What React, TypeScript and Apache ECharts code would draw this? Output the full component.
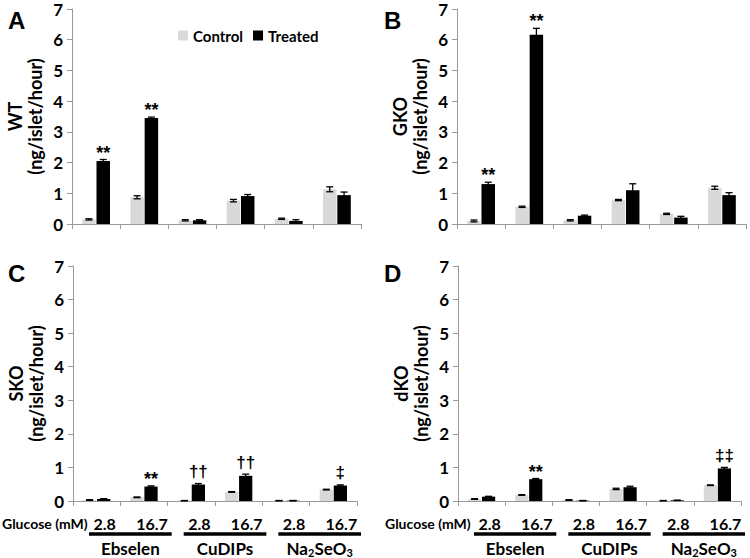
import React, { useEffect, useRef } from "react";
import * as echarts from "echarts";

const categories = ["Ebselen|2.8", "Ebselen|16.7", "CuDIPs|2.8", "CuDIPs|16.7", "Na2SeO3|2.8", "Na2SeO3|16.7"];
const groups = ["Ebselen", "CuDIPs", "Na2SeO3"];
const panelNames = ["WT", "GKO", "SKO", "dKO"];
const panelLetters = ["A", "B", "C", "D"];

const wtControl = [0.15, 0.87, 0.12, 0.76, 0.17, 1.13];
const wtControlErr = [0.02, 0.05, 0.02, 0.04, 0.02, 0.08];
const wtTreated = [2.05, 3.45, 0.12, 0.91, 0.1, 0.94];
const wtTreatedErr = [0.05, 0.03, 0.02, 0.05, 0.04, 0.1];
const wtMarks = ["**", "**", "", "", "", ""];

const gkoControl = [0.1, 0.56, 0.12, 0.78, 0.33, 1.18];
const gkoControlErr = [0.03, 0.02, 0.02, 0.02, 0.02, 0.05];
const gkoTreated = [1.3, 6.16, 0.27, 1.1, 0.21, 0.94];
const gkoTreatedErr = [0.06, 0.21, 0.02, 0.21, 0.04, 0.08];
const gkoMarks = ["**", "**", "", "", "", ""];

const skoControl = [0.03, 0.11, 0.01, 0.27, 0.01, 0.34];
const skoControlErr = [0.01, 0.01, 0.005, 0.01, 0.005, 0.01];
const skoTreated = [0.06, 0.43, 0.49, 0.75, 0.01, 0.46];
const skoTreatedErr = [0.01, 0.02, 0.03, 0.05, 0.005, 0.02];
const skoMarks = ["", "**", "††", "††", "", "‡"];

const dkoControl = [0.06, 0.18, 0.03, 0.36, 0.01, 0.47];
const dkoControlErr = [0.01, 0.01, 0.01, 0.02, 0.005, 0.01];
const dkoTreated = [0.13, 0.65, 0.01, 0.41, 0.02, 0.97];
const dkoTreatedErr = [0.01, 0.02, 0.005, 0.03, 0.005, 0.03];
const dkoMarks = ["", "**", "", "", "", "‡‡"];

const panels = [
  { c: wtControl, ce: wtControlErr, t: wtTreated, te: wtTreatedErr, m: wtMarks },
  { c: gkoControl, ce: gkoControlErr, t: gkoTreated, te: gkoTreatedErr, m: gkoMarks },
  { c: skoControl, ce: skoControlErr, t: skoTreated, te: skoTreatedErr, m: skoMarks },
  { c: dkoControl, ce: dkoControlErr, t: dkoTreated, te: dkoTreatedErr, m: dkoMarks },
];

const FONT = "Lato";
const CTRL = "#d9d9d9";
const TRT = "#000000";
const AXIS = "#9a9a9a";
const BAR_RATIO = 0.28;
const BAR_GAP = 0.06;

const grids = [
  { left: 72, top: 9, width: 289, height: 215 },
  { left: 457, top: 9, width: 289, height: 215 },
  { left: 73, top: 266, width: 284, height: 235 },
  { left: 458, top: 266, width: 283, height: 235 },
];

export default function App() {
  const ref = useRef<HTMLDivElement>(null);
  useEffect(() => {
    document.body.style.margin = "0";
    const chart = echarts.init(ref.current!, null, { renderer: "svg" });
    const series: any[] = [];
    panels.forEach((p, i) => {
      series.push({
        type: "bar", name: "Control", xAxisIndex: i, yAxisIndex: i,
        data: p.c, barWidth: BAR_RATIO * 100 + "%", barGap: BAR_GAP * 100 + "%",
        itemStyle: { color: CTRL }, silent: true,
      });
      series.push({
        type: "bar", name: "Treated", xAxisIndex: i, yAxisIndex: i,
        data: p.t, barWidth: BAR_RATIO * 100 + "%", barGap: BAR_GAP * 100 + "%",
        itemStyle: { color: TRT }, silent: true,
      });
      const errData: number[][] = [];
      const marks: string[] = [];
      p.c.forEach((v, k) => { errData.push([k, v, p.ce[k], -1]); marks.push(""); });
      p.t.forEach((v, k) => { errData.push([k, v, p.te[k], 1]); marks.push(p.m[k]); });
      series.push({
        type: "custom", xAxisIndex: i, yAxisIndex: i, silent: true, z: 10,
        data: errData,
        renderItem: (params: any, api: any) => {
          const idx = api.value(0), mean = api.value(1), err = api.value(2), side = api.value(3);
          const band = api.size([1, 0])[0];
          const w = band * BAR_RATIO;
          const off = side * (w / 2 + (w * BAR_GAP) / 2);
          const x = api.coord([idx, mean])[0] + off;
          const top = api.coord([idx, mean + err])[1];
          const bot = api.coord([idx, Math.max(0, mean - err)])[1];
          const cap = 3.5;
          const st = { stroke: "#000", lineWidth: 1.3 };
          const children: any[] = [
            { type: "line", shape: { x1: x, y1: top, x2: x, y2: bot }, style: st },
            { type: "line", shape: { x1: x - cap, y1: top, x2: x + cap, y2: top }, style: st },
            { type: "line", shape: { x1: x - cap, y1: bot, x2: x + cap, y2: bot }, style: st },
          ];
          const mk = marks[params.dataIndex];
          if (mk) {
            const isStar = mk.indexOf("*") >= 0;
            children.push({
              type: "text",
              style: {
                x, y: isStar ? top - 7 : top - 12, text: mk, fill: "#000",
                font: isStar ? "bold 18px 'Liberation Sans'" : "bold 17px 'Liberation Sans'",
                align: "center", verticalAlign: "middle",
              },
            });
          }
          return { type: "group", children };
        },
      });
    });

    const option: any = {
      animation: false,
      textStyle: { fontFamily: FONT },
      legend: {
        data: ["Control", "Treated"], left: 173, top: 23, itemWidth: 10, itemHeight: 10,
        itemGap: 10, icon: "rect", selectedMode: false,
        textStyle: { fontFamily: FONT, fontWeight: "bold", fontSize: 15, color: "#000" },
      },
      grid: grids.map((g) => ({ ...g, containLabel: false })),
      xAxis: grids.map((_, i) => ({
        type: "category", gridIndex: i, data: categories,
        axisLine: { lineStyle: { color: AXIS, width: 1 } },
        axisTick: { show: true, length: 5, lineStyle: { color: AXIS } },
        axisLabel: {
          show: i >= 2, interval: 0, margin: 14, fontFamily: FONT, fontWeight: "bold",
          fontSize: 16, color: "#000", padding: [0, 0, 0, 16],
          formatter: (v: string) => v.split("|")[1],
        },
        splitLine: { show: false },
      })),
      yAxis: grids.map((_, i) => ({
        type: "value", gridIndex: i, min: 0, max: 7, interval: 1,
        name: panelNames[i] + "\n(ng/islet/hour)", nameLocation: "middle", nameGap: 27,
        nameTextStyle: { fontFamily: FONT, fontWeight: "bold", fontSize: 18, color: "#000", lineHeight: 20 },
        axisLine: { show: true, lineStyle: { color: AXIS, width: 1 } },
        axisTick: { show: true, length: 5, lineStyle: { color: AXIS } },
        axisLabel: { margin: 9, fontFamily: FONT, fontWeight: "bold", fontSize: 17, color: "#000" },
        splitLine: { show: false },
      })),
      series,
    };
    chart.setOption(option);

    const graphic: any[] = [];
    const letterPos = [[8, 8], [384, 8], [8, 261], [384, 261]];
    panelLetters.forEach((L, i) => {
      graphic.push({
        type: "text", left: letterPos[i][0], top: letterPos[i][1],
        style: { text: L, font: "bold 24px 'Liberation Sans'", fill: "#000" },
      });
    });
    [2, 3].forEach((gi) => {
      const x0 = chart.convertToPixel({ gridIndex: gi }, [0, 0]) as number[];
      const x1 = chart.convertToPixel({ gridIndex: gi }, [1, 0]) as number[];
      const band = x1[0] - x0[0];
      const axisY = x0[1];
      graphic.push({
        type: "text", left: gi === 2 ? 2 : 385, top: axisY + 15,
        style: { text: "Glucose (mM)", font: `bold 14px ${FONT}`, fill: "#000" },
      });
      groups.forEach((g, k) => {
        const cA = chart.convertToPixel({ gridIndex: gi }, [k * 2, 0]) as number[];
        const cB = chart.convertToPixel({ gridIndex: gi }, [k * 2 + 1, 0]) as number[];
        const xs = cA[0] - band / 2 + 16;
        const xe = cB[0] + band / 2 + 4;
        graphic.push({
          type: "line", shape: { x1: xs, y1: axisY + 33, x2: xe, y2: axisY + 33 },
          style: { stroke: "#000", lineWidth: 3.5 },
        });
        const mid = (xs + xe) / 2;
        const text = g === "Na2SeO3" ? "{n|Na}{s|2}{n|SeO}{s|3}" : `{n|${g}}`;
        graphic.push({
          type: "text", x: mid, y: axisY + 47,
          style: {
            text, align: "center", verticalAlign: "middle",
            rich: {
              n: { fontFamily: FONT, fontWeight: "bold", fontSize: 17, fill: "#000", lineHeight: 20 },
              s: { fontFamily: FONT, fontWeight: "bold", fontSize: 11, fill: "#000", lineHeight: 10, verticalAlign: "bottom" },
            },
          },
        });
      });
    });
    chart.setOption({ graphic });
    return () => chart.dispose();
  }, []);
  return <div ref={ref} style={{ width: 750, height: 558 }} />;
}
